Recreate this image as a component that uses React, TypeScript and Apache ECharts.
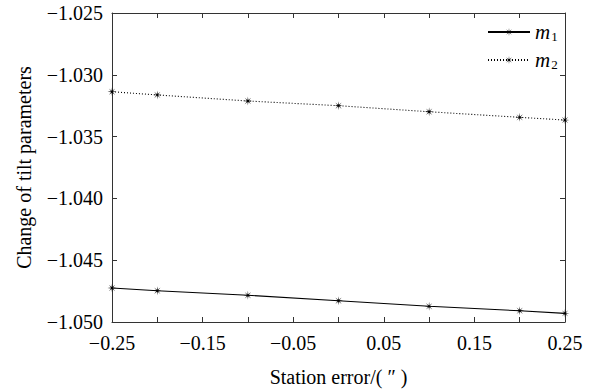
import React, { useEffect, useRef } from "react";
import * as echarts from "echarts";

const xValues = [-0.25, -0.2, -0.1, 0, 0.1, 0.2, 0.25];
const m1Values = [-1.04725, -1.04747, -1.04784, -1.04828, -1.04873, -1.04909, -1.0493];
const m2Values = [-1.03137, -1.03163, -1.03212, -1.0325, -1.03299, -1.03344, -1.03366];
const seriesNames = ["m1", "m2"];
const xAxisName = "Station error/( \u2033 )";
const yAxisName = "Change of tilt parameters";

const STAR =
  "path://M10,0L10.9,8.0L17.07,2.93L12.0,9.1L20,10L12.0,10.9L17.07,17.07L10.9,12.0L10,20L9.1,12.0L2.93,17.07L8.0,10.9L0,10L8.0,9.1L2.93,2.93L9.1,8.0Z";

const FONT = "'Liberation Serif', 'Times New Roman', serif";

const fmtMinus = (s: string) => s.replace("-", "\u2212");

export default function App() {
  const ref = useRef<HTMLDivElement>(null);
  useEffect(() => {
    if (!ref.current) return;
    const chart = echarts.init(ref.current, null, { renderer: "svg" });
    const axisLine = { show: true, onZero: false, lineStyle: { color: "#333", width: 1 } };
    const axisTick = { show: true, inside: true, length: 5, lineStyle: { color: "#333" } };
    const xBase = { type: "value", min: -0.25, max: 0.25, interval: 0.05, splitLine: { show: false } };
    const yBase = { type: "value", min: -1.05, max: -1.025, interval: 0.005, splitLine: { show: false } };
    chart.setOption({
      animation: false,
      backgroundColor: "#fff",
      grid: { left: 112, right: 27, top: 13, bottom: 69, containLabel: false },
      legend: {
        orient: "vertical",
        left: 487,
        top: 21,
        itemWidth: 42,
        itemHeight: 10,
        itemGap: 6,
        padding: 0,
        data: seriesNames,
        formatter: (n: string) => `{a|m}{b|${n.slice(1)}}`,
        textStyle: {
          color: "#000",
          rich: {
            a: { fontFamily: FONT, fontStyle: "italic", fontSize: 21, color: "#000", lineHeight: 20 },
            b: { fontFamily: FONT, fontSize: 13, color: "#000", padding: [9, 0, 0, 1], lineHeight: 20 },
          },
        },
      },
      xAxis: [
        {
          ...xBase,
          position: "bottom",
          axisLine,
          axisTick,
          name: xAxisName,
          nameLocation: "middle",
          nameGap: 45,
          nameTextStyle: { fontFamily: FONT, fontSize: 20, color: "#000" },
          axisLabel: {
            fontFamily: FONT,
            fontSize: 20,
            color: "#000",
            margin: 11,
            formatter: (v: number) =>
              Math.abs(Math.round(v * 100)) % 10 === 5 ? fmtMinus(v.toFixed(2)) : "",
          },
        },
        { ...xBase, position: "top", axisLine, axisTick, axisLabel: { show: false } },
      ],
      yAxis: [
        {
          ...yBase,
          position: "left",
          axisLine,
          axisTick,
          name: yAxisName,
          nameLocation: "middle",
          nameGap: 78,
          nameTextStyle: { fontFamily: FONT, fontSize: 20, color: "#000" },
          axisLabel: {
            fontFamily: FONT,
            fontSize: 20,
            color: "#000",
            margin: 9,
            formatter: (v: number) => fmtMinus(v.toFixed(3)),
          },
        },
        { ...yBase, position: "right", axisLine, axisTick, axisLabel: { show: false } },
      ],
      series: [
        {
          name: seriesNames[0],
          type: "line",
          data: xValues.map((x, i) => [x, m1Values[i]]),
          symbol: STAR,
          symbolSize: 9,
          lineStyle: { color: "#000", width: 1.1, type: "solid" },
          itemStyle: { color: "#000" },
        },
        {
          name: seriesNames[1],
          type: "line",
          data: xValues.map((x, i) => [x, m2Values[i]]),
          symbol: STAR,
          symbolSize: 9,
          lineStyle: { color: "#000", width: 1.1, type: [1, 2] },
          itemStyle: { color: "#000" },
        },
      ],
    });
    return () => chart.dispose();
  }, []);
  return <div ref={ref} style={{ width: 592, height: 392, position: "absolute", left: 0, top: 0 }} />;
}
